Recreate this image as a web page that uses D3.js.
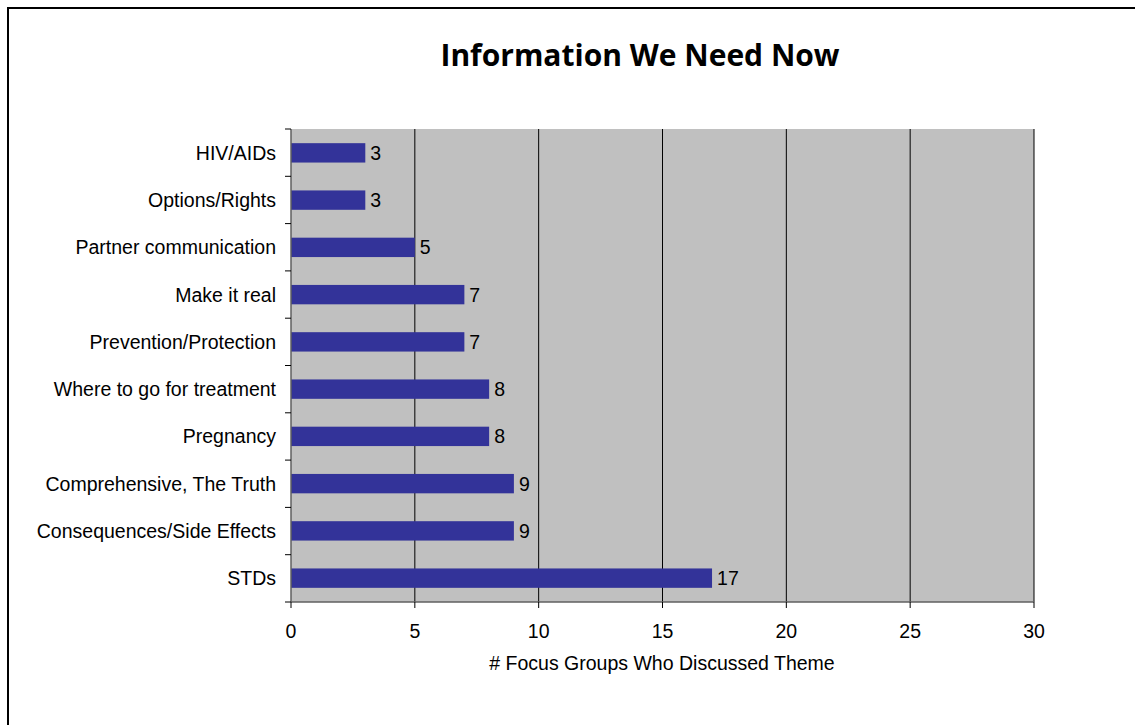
<!DOCTYPE html>
<html>
<head>
<meta charset="utf-8">
<script src="https://cdn.jsdelivr.net/npm/d3@7"></script>
<style>
  body { margin: 0; background: #fff; }
  svg text { font-family: "Liberation Sans", Arial, sans-serif; }
</style>
</head>
<body>
<svg id="chart" width="1135" height="725"></svg>
<script>
// data
var categories = ['HIV/AIDs', 'Options/Rights', 'Partner communication', 'Make it real',
    'Prevention/Protection', 'Where to go for treatment', 'Pregnancy',
    'Comprehensive, The Truth', 'Consequences/Side Effects', 'STDs'];
var counts = [3, 3, 5, 7, 7, 8, 8, 9, 9, 17];
var xTicks = [0, 5, 10, 15, 20, 25, 30];

var svg = d3.select('#chart');
var plot = { left: 291, top: 129, right: 1034, bottom: 602 };
var fontSize = '19.5px';

// outer frame
svg.append('rect')
    .attr('x', 8).attr('y', 8)
    .attr('width', 1140).attr('height', 740)
    .attr('fill', 'none')
    .attr('stroke', '#000')
    .attr('stroke-width', 2);

svg.append('text')
    .attr('x', 640).attr('y', 66)
    .attr('text-anchor', 'middle')
    .style('font-family', '"Open Sans", sans-serif')
    .style('font-weight', 'bold')
    .style('font-size', '30px')
    .text('Information We Need Now');

var x = d3.scaleLinear().domain([0, 30]).range([plot.left, plot.right]);
var y = d3.scaleBand().domain(categories).range([plot.top, plot.bottom]).paddingInner(0.59).paddingOuter(0.3);
var yEdges = d3.scaleLinear().domain([0, categories.length]).range([plot.top, plot.bottom]);

svg.append('rect')
    .attr('x', plot.left).attr('y', plot.top)
    .attr('width', plot.right - plot.left).attr('height', plot.bottom - plot.top)
    .attr('fill', '#c0c0c0');

// vertical gridlines
svg.selectAll('.grid').data(xTicks.slice(1)).enter().append('line')
    .attr('class', 'grid')
    .attr('x1', function(d) { return x(d); }).attr('x2', function(d) { return x(d); })
    .attr('y1', plot.top).attr('y2', plot.bottom)
    .attr('stroke', '#000').attr('stroke-width', 1);

// bars
svg.selectAll('.bar').data(categories).enter().append('rect')
    .attr('class', 'bar')
    .attr('x', x(0))
    .attr('y', function(d) { return y(d); })
    .attr('width', function(d, i) { return x(counts[i]) - x(0); })
    .attr('height', y.bandwidth())
    .attr('fill', '#333399');

svg.selectAll('.val').data(categories).enter().append('text')
    .attr('class', 'val')
    .attr('x', function(d, i) { return x(counts[i]) + 5; })
    .attr('y', function(d) { return y(d) + y.bandwidth() / 2 + 7; })
    .style('font-size', fontSize)
    .text(function(d, i) { return counts[i]; });

// axis lines
svg.append('line')
    .attr('x1', plot.left).attr('x2', plot.left)
    .attr('y1', plot.top).attr('y2', plot.bottom)
    .attr('stroke', '#606060').attr('stroke-width', 1.5);
svg.append('line')
    .attr('x1', plot.left).attr('x2', plot.right)
    .attr('y1', plot.bottom).attr('y2', plot.bottom)
    .attr('stroke', '#606060').attr('stroke-width', 1.5);

// category ticks at band edges
svg.selectAll('.ytick').data(d3.range(categories.length + 1)).enter().append('line')
    .attr('class', 'ytick')
    .attr('x1', plot.left - 6).attr('x2', plot.left)
    .attr('y1', function(d) { return yEdges(d); }).attr('y2', function(d) { return yEdges(d); })
    .attr('stroke', '#000');

svg.selectAll('.ylab').data(categories).enter().append('text')
    .attr('class', 'ylab')
    .attr('x', 276)
    .attr('y', function(d) { return y(d) + y.bandwidth() / 2 + 7; })
    .attr('text-anchor', 'end')
    .style('font-size', fontSize)
    .text(function(d) { return d; });

// x ticks
svg.selectAll('.xtick').data(xTicks).enter().append('line')
    .attr('class', 'xtick')
    .attr('x1', function(d) { return x(d); }).attr('x2', function(d) { return x(d); })
    .attr('y1', plot.bottom).attr('y2', plot.bottom + 6)
    .attr('stroke', '#000');

svg.selectAll('.xlab').data(xTicks).enter().append('text')
    .attr('class', 'xlab')
    .attr('x', function(d) { return x(d); })
    .attr('y', 638)
    .attr('text-anchor', 'middle')
    .style('font-size', fontSize)
    .text(function(d) { return d; });

svg.append('text')
    .attr('x', 662).attr('y', 670)
    .attr('text-anchor', 'middle')
    .style('font-size', fontSize)
    .text('# Focus Groups Who Discussed Theme');
</script>
</body>
</html>
